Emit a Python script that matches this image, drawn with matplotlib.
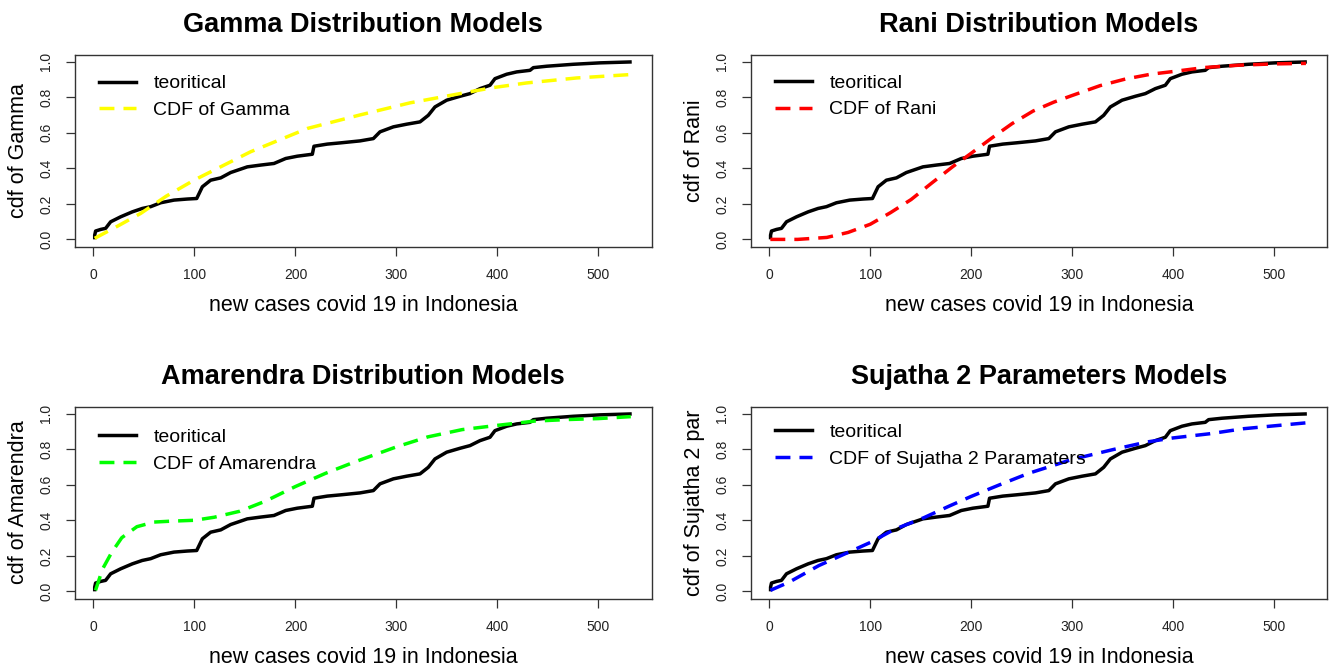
import numpy as np
import matplotlib.pyplot as plt

emp_x = [1.2, 1.2, 2.1, 7.1, 12.0, 17.0, 26.9, 38.5, 48.3, 56.6, 66.5, 79.7, 92.9,
         102.2, 107.8, 116.0, 126.0, 135.8, 152.3, 165.5, 178.7, 190.3, 201.8,
         216.7, 218.3, 231.5, 244.7, 263.9, 277.1, 283.7, 296.9, 310.1, 323.3,
         331.5, 338.1, 349.7, 362.9, 372.8, 382.7, 392.6, 397.5, 409.1, 419.0,
         432.2, 435.5, 448.7, 475.1, 501.5, 531.2]
emp_y = [0.010, 0.024, 0.047, 0.056, 0.062, 0.099, 0.127, 0.155, 0.174, 0.184,
         0.206, 0.221, 0.227, 0.230, 0.296, 0.333, 0.346, 0.376, 0.408, 0.418,
         0.427, 0.455, 0.468, 0.479, 0.524, 0.536, 0.543, 0.554, 0.567, 0.605,
         0.633, 0.648, 0.661, 0.698, 0.745, 0.783, 0.805, 0.820, 0.848, 0.867,
         0.904, 0.929, 0.942, 0.951, 0.966, 0.974, 0.985, 0.993, 0.998]

# fitted cdfs
gamma_x = [1.2, 24, 46.7, 72, 99.5, 155.6, 211.8, 263.9, 313.4, 362.9, 395.9, 428.9, 478.4, 531.2]
gamma_y = [0.006, 0.075, 0.146, 0.243, 0.333, 0.493, 0.624, 0.700, 0.768, 0.820, 0.854, 0.880, 0.908, 0.927]

rani_x = [1, 28, 57, 78, 100, 120, 140.5, 161, 182, 200, 220, 240.6, 261.5, 282, 300,
          328, 353, 378, 400, 432, 466, 500, 532]
rani_y = [0.0, 0.0, 0.011, 0.039, 0.085, 0.150, 0.224, 0.317, 0.410, 0.484, 0.568,
          0.651, 0.722, 0.772, 0.809, 0.865, 0.902, 0.929, 0.944, 0.967, 0.980, 0.987, 0.990]

amar_x = [2, 9, 18, 28, 43, 60, 77, 100, 119.5, 145, 170, 200, 229.7, 259, 300, 331,
          365, 400, 437, 471, 500, 532]
amar_y = [0.006, 0.126, 0.219, 0.302, 0.364, 0.390, 0.395, 0.400, 0.417, 0.451, 0.507,
          0.590, 0.664, 0.729, 0.813, 0.869, 0.910, 0.934, 0.958, 0.967, 0.972, 0.983]

suj_x = [1, 19.6, 49, 78, 100, 124, 153, 178, 200, 228, 257, 300, 341, 374, 400, 437,
         470, 500, 532]
suj_y = [0.006, 0.052, 0.145, 0.219, 0.275, 0.349, 0.414, 0.479, 0.534, 0.599, 0.664,
         0.742, 0.798, 0.840, 0.863, 0.887, 0.915, 0.931, 0.948]

titles = ["Gamma Distribution Models", "Rani Distribution Models",
          "Amarendra Distribution Models", "Sujatha 2 Parameters Models"]
ylabels = ["cdf of Gamma", "cdf of Rani", "cdf of Amarendra", "cdf of Sujatha 2 par"]
fit_labels = ["CDF of Gamma", "CDF of Rani", "CDF of Amarendra", "CDF of Sujatha 2 Paramaters"]
fit_x = [gamma_x, rani_x, amar_x, suj_x]
fit_y = [gamma_y, rani_y, amar_y, suj_y]
colors = ["#FFFF00", "#FF0000", "#00FF00", "#0000FF"]

xticks = [0, 100, 200, 300, 400, 500]
yticks = [0.0, 0.2, 0.4, 0.6, 0.8, 1.0]

plt.rcParams['font.family'] = ['Liberation Sans', 'DejaVu Sans']

W, H = 1330, 670
fig = plt.figure(figsize=(W / 100, H / 100), dpi=100)

# axes boxes in pixels: left, top, width, height
boxes = [(74.7, 54.5, 577.3, 192), (750.6, 54.5, 576.5, 192),
         (74.7, 406.5, 577.3, 192), (750.6, 406.5, 576.5, 192)]
# legend top, pixels below the box top
legend_top = [20.3, 19.7, 22.0, 17.0]

for i in range(4):
    l, t, w, h = boxes[i]
    ax = fig.add_axes([l / W, 1 - (t + h) / H, w / W, h / H])
    ax.plot(emp_x, emp_y, color='k', lw=2.5, label='teoritical')
    ax.plot(fit_x[i], fit_y[i], color=colors[i], lw=2.5, ls=(0, (4.3, 2.6)),
            label=fit_labels[i])
    ax.set_xlim(-18.6, 553)
    ax.set_ylim(-0.04, 1.04)
    ax.set_xticks(xticks)
    ax.set_yticks(yticks)
    ax.set_yticklabels(['%.1f' % v for v in yticks], rotation=90, va='center')
    ax.tick_params(direction='out', length=6.5, width=0.9, pad=9, labelsize=10,
                   colors='#333333', labelcolor='#222222',
                   labelfontfamily=['Liberation Sans Narrow', 'Liberation Sans'])
    for s in ax.spines.values():
        s.set_color('#333333')
        s.set_linewidth(1.0)

    ax.set_title(titles[i], fontsize=19.5, fontweight='bold', pad=16.5)
    ax.set_xlabel("new cases covid 19 in Indonesia", fontsize=15.5, va='center')
    ax.xaxis.set_label_coords(0.5, -59 / h)
    ax.set_ylabel(ylabels[i], fontsize=15.5, va='center')
    ax.yaxis.set_label_coords(-56 / w, 0.5)

    ax.legend(loc='upper left', bbox_to_anchor=(24.3 / w, 1 - legend_top[i] / h),
              frameon=False, fontsize=14, borderpad=0, borderaxespad=0,
              handlelength=1.9, handletextpad=0.9, labelspacing=0.46)

fig.savefig('out.png')
